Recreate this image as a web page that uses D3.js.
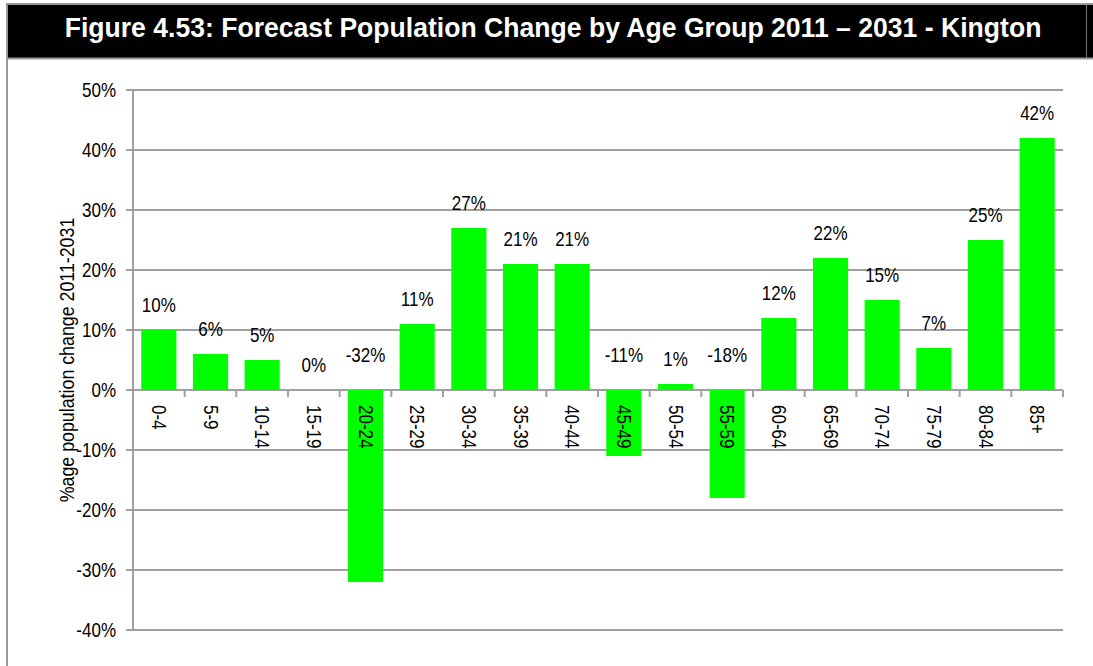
<!DOCTYPE html>
<html><head><meta charset="utf-8">
<script src="https://cdn.jsdelivr.net/npm/d3@7"></script>
<style>body{margin:0;background:#fff}svg{display:block}</style>
</head><body>
<svg id="c" width="1093" height="666"></svg>
<script>
const categories = ["0-4","5-9","10-14","15-19","20-24","25-29","30-34","35-39","40-44","45-49","50-54","55-59","60-64","65-69","70-74","75-79","80-84","85+"];
const values = [10,6,5,0,-32,11,27,21,21,-11,1,-18,12,22,15,7,25,42];
const yTicks = [-40,-30,-20,-10,0,10,20,30,40,50];
const titleText = "Figure 4.53: Forecast Population Change by Age Group 2011 – 2031 - Kington";
const yLabel = "%age population change 2011-2031";

const svg = d3.select("#c");
const font = "'Liberation Sans', Arial, sans-serif";
const K = 0.85, FS = 20;

// frame
svg.append("rect").attr("x",8).attr("y",4).attr("width",1085).attr("height",54).attr("fill","#000");
svg.append("line").attr("x1",6).attr("x2",1093).attr("y1",4).attr("y2",4).attr("stroke","#999").attr("stroke-width",2);
svg.append("line").attr("x1",8).attr("x2",1093).attr("y1",58.5).attr("y2",58.5).attr("stroke","#999").attr("stroke-width",2);
svg.append("line").attr("x1",7).attr("x2",7).attr("y1",3).attr("y2",666).attr("stroke","#999").attr("stroke-width",2);
svg.append("line").attr("x1",1086.5).attr("x2",1086.5).attr("y1",5).attr("y2",58).attr("stroke","#777").attr("stroke-width",1);
svg.append("text").attr("transform","translate(553,37) scale(0.985,1)").attr("text-anchor","middle").attr("fill","#fff")
  .attr("font-family",font).attr("font-weight","bold").attr("font-size",27).text(titleText);

const x = d3.scaleBand().domain(categories).range([133,1063]).paddingInner(0.32).paddingOuter(0.16);
const y = d3.scaleLinear().domain([-40,50]).range([630,90]);

// grid
svg.append("g").selectAll("line").data(yTicks).join("line")
  .attr("x1",126).attr("x2",1063).attr("y1",d=>y(d)).attr("y2",d=>y(d))
  .attr("stroke","#a0a0a0").attr("stroke-width",2);
// y labels
svg.append("g").selectAll("text").data(yTicks).join("text")
  .attr("transform",d=>`translate(116,${y(d)+7}) scale(${K},1)`).attr("text-anchor","end")
  .attr("font-family",font).attr("font-size",FS).attr("fill","#000").text(d=>d+"%");
// y axis line
svg.append("line").attr("x1",133).attr("x2",133).attr("y1",89).attr("y2",631).attr("stroke","#a0a0a0").attr("stroke-width",2);

// bars
svg.append("g").selectAll("rect").data(values).join("rect")
  .attr("x",(d,i)=>x(categories[i])).attr("width",x.bandwidth())
  .attr("y",d=>y(Math.max(d,0))).attr("height",d=>Math.abs(y(d)-y(0)))
  .attr("fill","#00ff00");

// x ticks at category boundaries
const bx = i => x.range()[0] + i*(x.range()[1]-x.range()[0])/categories.length;
svg.append("g").selectAll("line").data(d3.range(categories.length+1)).join("line")
  .attr("x1",bx).attr("x2",bx)
  .attr("y1",y(0)).attr("y2",y(0)+7)
  .attr("stroke","#a0a0a0").attr("stroke-width",2);

// category labels rotated
svg.append("g").selectAll("text").data(categories).join("text")
  .attr("transform",d=>`translate(${x(d)+x.bandwidth()/2-7},405) rotate(90) scale(${K},1)`)
  .attr("font-family",font).attr("font-size",FS).attr("fill","#000").text(d=>d);

// value labels
svg.append("g").selectAll("text").data(values).join("text")
  .attr("transform",(d,i)=>`translate(${x(categories[i])+x.bandwidth()/2},${d>=0 ? y(d)-18 : y(0)-28}) scale(${K},1)`)
  .attr("text-anchor","middle").attr("font-family",font).attr("font-size",FS).attr("fill","#000")
  .text(d=>d+"%");

// y title
svg.append("text").attr("transform","translate(74,360) rotate(-90) scale(0.89,1)").attr("text-anchor","middle")
  .attr("font-family",font).attr("font-size",FS).attr("fill","#000").text(yLabel);
</script>
</body></html>
